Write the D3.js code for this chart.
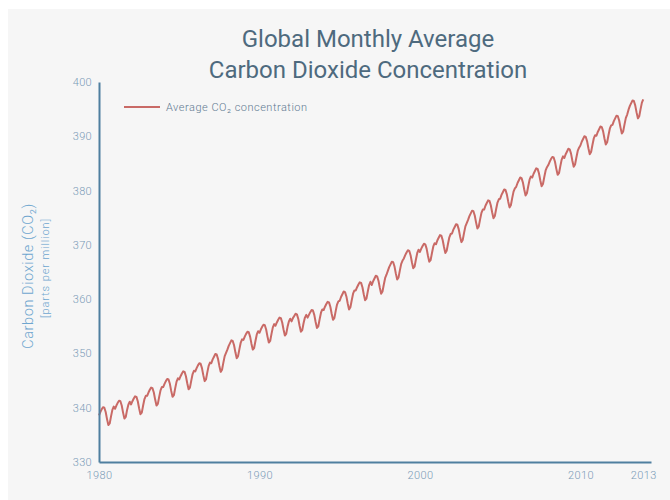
<!DOCTYPE html>
<html>
<head>
<meta charset="utf-8">
<script src="https://cdn.jsdelivr.net/npm/d3@7"></script>
<style>
  html, body { margin: 0; padding: 0; background: #ffffff; }
  svg { display: block; }
</style>
</head>
<body>
<svg id="chart" width="670" height="500"></svg>
<script>
// ---- DATA ----
const startYear = 1980;
const titleLines = ["Global Monthly Average", "Carbon Dioxide Concentration"];
const yTicks = [330, 340, 350, 360, 370, 380, 390, 400];
const xTickYears = [1980, 1990, 2000, 2010, 2013 + 11 / 12];
const xTickLabels = ["1980", "1990", "2000", "2010", "2013"];
// monthly global average CO2 (ppm), Jan 1980 - Dec 2013
const co2Monthly = [
  338.6, 339.2, 339.7, 340.1, 340.0, 339.2, 337.9, 336.8, 337.1, 338.4, 339.6, 340.2, // 1980
  339.8, 340.4, 340.9, 341.3, 341.2, 340.4, 339.1, 338.0, 338.3, 339.6, 340.6, 341.1, // 1981
  340.6, 341.2, 341.7, 342.1, 342.0, 341.2, 339.9, 338.8, 339.1, 340.4, 341.6, 342.2, // 1982
  342.2, 342.8, 343.3, 343.7, 343.6, 342.8, 341.5, 340.4, 340.7, 342.0, 343.2, 343.8, // 1983
  343.8, 344.4, 344.9, 345.3, 345.2, 344.4, 343.1, 342.0, 342.3, 343.6, 344.8, 345.4, // 1984
  345.2, 345.8, 346.3, 346.7, 346.6, 345.8, 344.5, 343.4, 343.7, 345.0, 346.2, 346.8, // 1985
  346.7, 347.3, 347.8, 348.2, 348.1, 347.3, 346.0, 344.9, 345.2, 346.5, 347.7, 348.3, // 1986
  348.2, 348.9, 349.4, 349.9, 349.8, 349.0, 347.7, 346.6, 347.0, 348.3, 349.5, 350.1, // 1987
  350.7, 351.4, 351.9, 352.4, 352.3, 351.5, 350.2, 349.1, 349.5, 350.8, 352.0, 352.6, // 1988
  352.5, 353.1, 353.6, 354.0, 353.9, 353.1, 351.8, 350.7, 351.0, 352.3, 353.5, 354.1, // 1989
  353.8, 354.4, 354.9, 355.3, 355.2, 354.4, 353.1, 352.0, 352.3, 353.6, 354.8, 355.4, // 1990
  355.1, 355.7, 356.2, 356.6, 356.5, 355.7, 354.4, 353.3, 353.6, 354.9, 355.9, 356.4, // 1991
  355.9, 356.5, 356.9, 357.3, 357.2, 356.4, 355.1, 354.0, 354.3, 355.6, 356.6, 357.1, // 1992
  356.6, 357.1, 357.6, 358.0, 357.9, 357.1, 355.8, 354.7, 355.0, 356.3, 357.5, 358.1, // 1993
  358.0, 358.6, 359.1, 359.5, 359.4, 358.6, 357.3, 356.2, 356.5, 357.8, 359.0, 359.6, // 1994
  359.7, 360.4, 360.9, 361.4, 361.3, 360.5, 359.2, 358.1, 358.5, 359.8, 361.0, 361.6, // 1995
  361.6, 362.2, 362.7, 363.1, 363.0, 362.2, 360.9, 359.8, 360.1, 361.4, 362.6, 363.2, // 1996
  362.6, 363.3, 363.8, 364.3, 364.2, 363.4, 362.1, 361.0, 361.4, 362.7, 363.9, 364.5, // 1997
  365.2, 365.9, 366.4, 366.9, 366.8, 366.0, 364.7, 363.6, 364.0, 365.3, 366.5, 367.1, // 1998
  367.5, 368.1, 368.6, 369.0, 368.9, 368.1, 366.8, 365.7, 366.0, 367.3, 368.5, 369.1, // 1999
  368.7, 369.3, 369.8, 370.2, 370.1, 369.3, 368.0, 366.9, 367.2, 368.5, 369.7, 370.3, // 2000
  370.1, 370.8, 371.3, 371.8, 371.7, 370.9, 369.6, 368.5, 368.9, 370.2, 371.4, 372.0, // 2001
  372.1, 372.8, 373.3, 373.8, 373.7, 372.9, 371.6, 370.5, 370.9, 372.2, 373.4, 374.0, // 2002
  374.6, 375.3, 375.8, 376.3, 376.2, 375.4, 374.1, 373.0, 373.4, 374.7, 375.9, 376.5, // 2003
  376.5, 377.2, 377.7, 378.2, 378.1, 377.3, 376.0, 374.9, 375.3, 376.6, 377.8, 378.4, // 2004
  378.5, 379.2, 379.7, 380.2, 380.1, 379.3, 378.0, 376.9, 377.3, 378.6, 379.8, 380.4, // 2005
  380.7, 381.4, 381.9, 382.4, 382.3, 381.5, 380.2, 379.1, 379.5, 380.8, 382.0, 382.6, // 2006
  382.4, 383.1, 383.6, 384.1, 384.0, 383.2, 381.9, 380.8, 381.2, 382.5, 383.7, 384.3, // 2007
  384.7, 385.3, 385.8, 386.2, 386.1, 385.3, 384.0, 382.9, 383.2, 384.5, 385.7, 386.3, // 2008
  386.0, 386.7, 387.2, 387.7, 387.6, 386.8, 385.5, 384.4, 384.8, 386.1, 387.3, 387.9, // 2009
  388.3, 389.0, 389.5, 390.0, 389.9, 389.1, 387.8, 386.7, 387.1, 388.4, 389.6, 390.2, // 2010
  390.1, 390.8, 391.3, 391.8, 391.7, 390.9, 389.6, 388.5, 388.9, 390.2, 391.4, 392.0, // 2011
  392.1, 392.8, 393.3, 393.8, 393.7, 392.9, 391.6, 390.5, 390.9, 392.2, 393.4, 394.0, // 2012
  394.9, 395.6, 396.1, 396.6, 396.5, 395.7, 394.4, 393.3, 393.7, 395.0, 396.2, 396.8  // 2013
];
const legendLabel = "Average CO\u2082 concentration";
const yLabel = "Carbon Dioxide (CO\u2082)";
const yUnit = "[parts per million]";

// ---- CHART ----
const svg = d3.select("#chart");
svg.append("rect").attr("x", 8).attr("y", 9).attr("width", 662).attr("height", 491).attr("fill", "#f6f6f6");

const x = d3.scaleLinear().domain([1980, 2014.4]).range([99, 651]);
const y = d3.scaleLinear().domain([330, 400]).range([462, 82]);

const axisColor = "#4f7f9f";
const tickText = "#7b9bb6";
const font = "Roboto, 'Open Sans', sans-serif";

// title
svg.append("g").selectAll("text").data(titleLines).join("text")
  .attr("x", 368).attr("y", (d, i) => 47 + i * 31)
  .attr("text-anchor", "middle")
  .attr("font-family", font)
  .attr("font-size", 24).attr("fill", "#4e6a7e")
  .text(d => d);

// line
const pts = co2Monthly.map((v, i) => ({ t: startYear + i / 12, v }));
svg.append("path").datum(pts)
  .attr("fill", "none").attr("stroke", "#c96a66").attr("stroke-width", 2)
  .attr("stroke-linejoin", "round")
  .attr("d", d3.line().x(d => x(d.t)).y(d => y(d.v)));

// y axis
const gy = svg.append("g").attr("transform", "translate(99,0)")
  .call(d3.axisLeft(y).tickValues(yTicks).tickSize(0).tickPadding(7).tickFormat(d3.format("d")));
gy.select(".domain").attr("stroke", axisColor).attr("stroke-width", 2);
gy.selectAll("text").attr("font-family", font).attr("font-size", 11).attr("font-weight", 300)
  .attr("letter-spacing", 0.3).attr("fill", tickText);

// x axis
const gx = svg.append("g").attr("transform", "translate(0,462)")
  .call(d3.axisBottom(x).tickValues(xTickYears).tickSize(0).tickPadding(9)
    .tickFormat((d, i) => xTickLabels[i]));
gx.select(".domain").attr("stroke", axisColor).attr("stroke-width", 2);
gx.selectAll("text").attr("font-family", font).attr("font-size", 11).attr("font-weight", 300)
  .attr("letter-spacing", 0.4).attr("fill", tickText);

// y label
svg.append("text").attr("transform", "translate(33,276) rotate(-90)")
  .attr("text-anchor", "middle").attr("font-family", font).attr("font-weight", 300)
  .attr("font-size", 14.5).attr("letter-spacing", 0.6).attr("fill", "#6fa6cf").text(yLabel);
svg.append("text").attr("transform", "translate(49,268) rotate(-90)")
  .attr("text-anchor", "middle").attr("font-family", font).attr("font-weight", 300)
  .attr("font-size", 11).attr("letter-spacing", 0.9).attr("fill", "#6fa6cf").text(yUnit);

// legend
svg.append("line").attr("x1", 124).attr("x2", 160).attr("y1", 107).attr("y2", 107)
  .attr("stroke", "#c96a66").attr("stroke-width", 2);
svg.append("text").attr("x", 166).attr("y", 107).attr("dy", "0.35em")
  .attr("font-family", font).attr("font-size", 11).attr("font-weight", 300)
  .attr("letter-spacing", 0.5).attr("fill", "#5f7a92")
  .text(legendLabel);
</script>
</body>
</html>
